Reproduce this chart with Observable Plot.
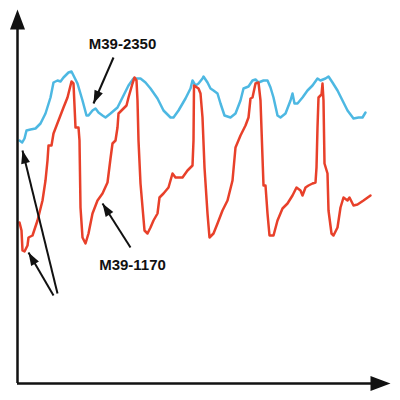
<!DOCTYPE html>
<html><head><meta charset="utf-8">
<script src="https://cdn.jsdelivr.net/npm/d3@7"></script>
<script src="https://cdn.jsdelivr.net/npm/@observablehq/plot@0.6"></script>
<style>html,body{margin:0;padding:0;background:#fff;}</style>
</head><body><div id="chart"></div>
<script>
// Series M39-2350 (blue): [time, value]
const blueT = [2,4.7,7,9,13,18,23,28,33,36,40,43,46,51,54,56,60,65,69,71,75,78,81,85,88,93,100,106,111,116,123,128,133,140,146,153,156,161,168,173,175,178,181,185,186,190,193,196,200,203,207,213,218,223,226,231,235,238,241,246,250,253,256,260,263,268,273,275,277,280,285,290,295,300,303,308,311,315,320,325,330,336,341,345,348];
const blueV = [243,241,245,253,254,255,260,270,286,301,303,302,306,311,312,308,300,283,268,268,273,275,271,268,266,270,276,288,298,305,305,301,295,285,273,266,266,273,285,295,303,298,300,305,307,301,295,293,290,280,268,266,270,283,295,297,303,304,301,303,303,296,286,268,266,270,283,290,280,280,286,293,298,305,303,305,307,301,293,283,273,265,266,266,271];
// Series M39-1170 (red)
const redT = [2,4,5,7,10,11,15,20,25,28,30,31,34,36,41,46,50,54,56,58,61,62,63,65,68,71,75,80,85,90,93,95,98,100,101,106,109,111,115,117,119,120,121,123,127,130,133,136,140,142,146,151,155,158,165,170,175,176,176.5,178,181,183,185,187,190,192,196,200,205,210,215,218,223,228,231,233,235,238,241,243,245,246,248,250,252,256,260,265,270,275,279,283,285,288,291,295,298,299,300,301,304,305,306,307,310,311,314,316,320,323,326,330,332,335,336,340,346,353];
const redV = [161,153,133,132,138,146,148,163,183,203,223,238,238,250,263,276,286,302,300,256,256,243,176,146,140,150,170,183,190,201,225,240,243,256,270,275,278,286,300,306,303,283,243,200,153,150,156,163,170,186,190,196,210,206,206,213,218,243,298,297,295,290,266,216,170,146,150,160,173,183,203,236,248,258,266,285,286,300,301,283,226,198,198,170,148,148,163,175,180,188,196,193,188,196,198,200,201,216,256,286,289,300,283,220,210,173,150,148,156,176,186,183,186,180,178,179,183,188];
// Annotations
const labels = ["M39-2350", "M39-1170"];
const labelX = [105, 115];
const labelY = [339, 118];
const arrowX1 = [96, 113, 40, 36];
const arrowY1 = [326, 136, 90, 88];
const arrowX2 = [76, 85, 5, 11];
const arrowY2 = [280, 180, 233, 131];
// Axis extent
const xMax = 373, yMax = 374;

const blue = blueT.map((t, i) => ({t, v: blueV[i]}));
const red = redT.map((t, i) => ({t, v: redV[i]}));
const arrows = arrowX1.map((x1, i) => ({x1, y1: arrowY1[i], x2: arrowX2[i], y2: arrowY2[i]}));
const lbl = labels.map((s, i) => ({s, x: labelX[i], y: labelY[i]}));
const axisHeads = [{x: xMax, y: 0, a: 90}, {x: 0, y: yMax, a: 0}];

const head = (len, wid) => ({draw(ctx) { ctx.moveTo(0, 0); ctx.lineTo(wid / 2, len); ctx.lineTo(-wid / 2, len); ctx.closePath(); }});
const angle = d => Math.atan2(d.x2 - d.x1, d.y2 - d.y1) * 180 / Math.PI;

const chart = Plot.plot({
  width: 400, height: 400,
  marginLeft: 17, marginRight: 10, marginTop: 9, marginBottom: 17,
  x: {domain: [0, xMax], axis: null},
  y: {domain: [0, yMax], axis: null},
  style: {background: "#fff"},
  marks: [
    Plot.line(blue, {x: "t", y: "v", stroke: "#4db8e2", strokeWidth: 2.5, curve: "linear"}),
    Plot.line(red, {x: "t", y: "v", stroke: "#e8402a", strokeWidth: 2.5, curve: "linear"}),
    Plot.link(arrows, {x1: "x1", y1: "y1", x2: "x2", y2: "y2", stroke: "#111", strokeWidth: 2}),
    Plot.dot(arrows, {x: "x2", y: "y2", symbol: head(13, 9), rotate: angle, fill: "#111", stroke: null, r: 5}),
    Plot.text(lbl, {x: "x", y: "y", text: "s", fontSize: 15, fontWeight: "bold", fontFamily: "Liberation Sans, Arial, sans-serif", fill: "#111"}),
    Plot.ruleY([0], {x1: 0, x2: xMax - 10, stroke: "#111", strokeWidth: 2.5}),
    Plot.ruleX([0], {y1: 0, y2: yMax - 10, stroke: "#111", strokeWidth: 2.5}),
    Plot.dot(axisHeads, {x: "x", y: "y", symbol: head(20, 15), rotate: "a", fill: "#111", stroke: null, r: 8})
  ]
});
document.getElementById("chart").appendChild(chart);
</script>
</body></html>
